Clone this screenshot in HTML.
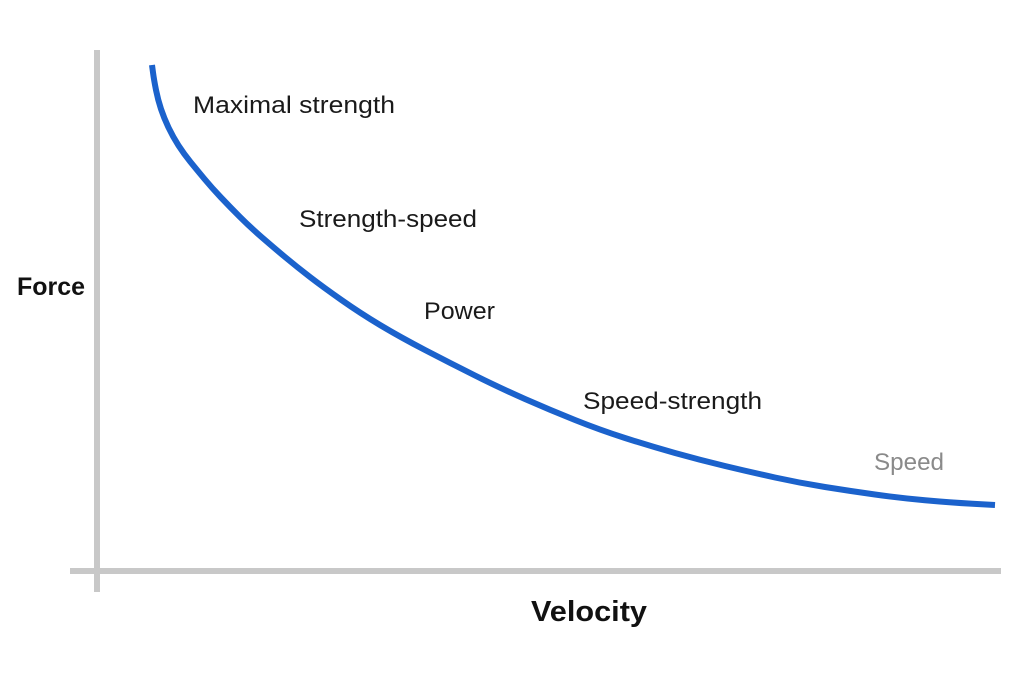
<!DOCTYPE html>
<html><head><style>
html,body{margin:0;padding:0;background:#fff;}
svg{display:block;}
text{font-family:"Liberation Sans",sans-serif;}
</style></head><body>
<svg width="1024" height="683" viewBox="0 0 1024 683">
<rect x="94" y="50" width="6" height="542" fill="#c8c8c8"/>
<rect x="70" y="568" width="931" height="6" fill="#c8c8c8"/>
<path d="M152,65 L153,72.5 Q154,80 156,90 Q158,100 161,109 Q164,118 168.5,127.5 Q173,137 178.5,145.5 Q184,154 190.5,162 Q197,170 204.5,179 Q212,188 221,197.5 Q230,207 240,217 Q250,227 261.5,237 Q273,247 285,257 Q297,267 310,277 Q323,287 341.5,300 Q360,313 380,325 Q400,337 425,350 Q450,363 475,375.5 Q500,388 525,399 Q550,410 575,420 Q600,430 625,438 Q650,446 675,453 Q700,460 725,466 Q750,472 775,477.5 Q800,483 825,487 Q850,491 875,494.5 Q900,498 925,500.25 Q950,502.5 972.5,503.75 L995,505" fill="none" stroke="#1b62cc" stroke-width="6" stroke-linejoin="round"/>
<text x="193" y="113" font-size="24" fill="#1a1a1a" textLength="202" lengthAdjust="spacingAndGlyphs">Maximal strength</text>
<text x="299" y="227" font-size="24" fill="#1a1a1a" textLength="178" lengthAdjust="spacingAndGlyphs">Strength-speed</text>
<text x="424" y="319" font-size="24" fill="#1a1a1a" textLength="71" lengthAdjust="spacingAndGlyphs">Power</text>
<text x="583" y="409" font-size="24" fill="#1a1a1a" textLength="179" lengthAdjust="spacingAndGlyphs">Speed-strength</text>
<text x="874" y="470" font-size="24" fill="#8a8a8a" textLength="70" lengthAdjust="spacingAndGlyphs">Speed</text>
<text x="17" y="295" font-size="25" font-weight="bold" fill="#111" textLength="68" lengthAdjust="spacingAndGlyphs">Force</text>
<text x="531" y="621" font-size="29" font-weight="bold" fill="#111" textLength="116" lengthAdjust="spacingAndGlyphs">Velocity</text>
</svg>
</body></html>
